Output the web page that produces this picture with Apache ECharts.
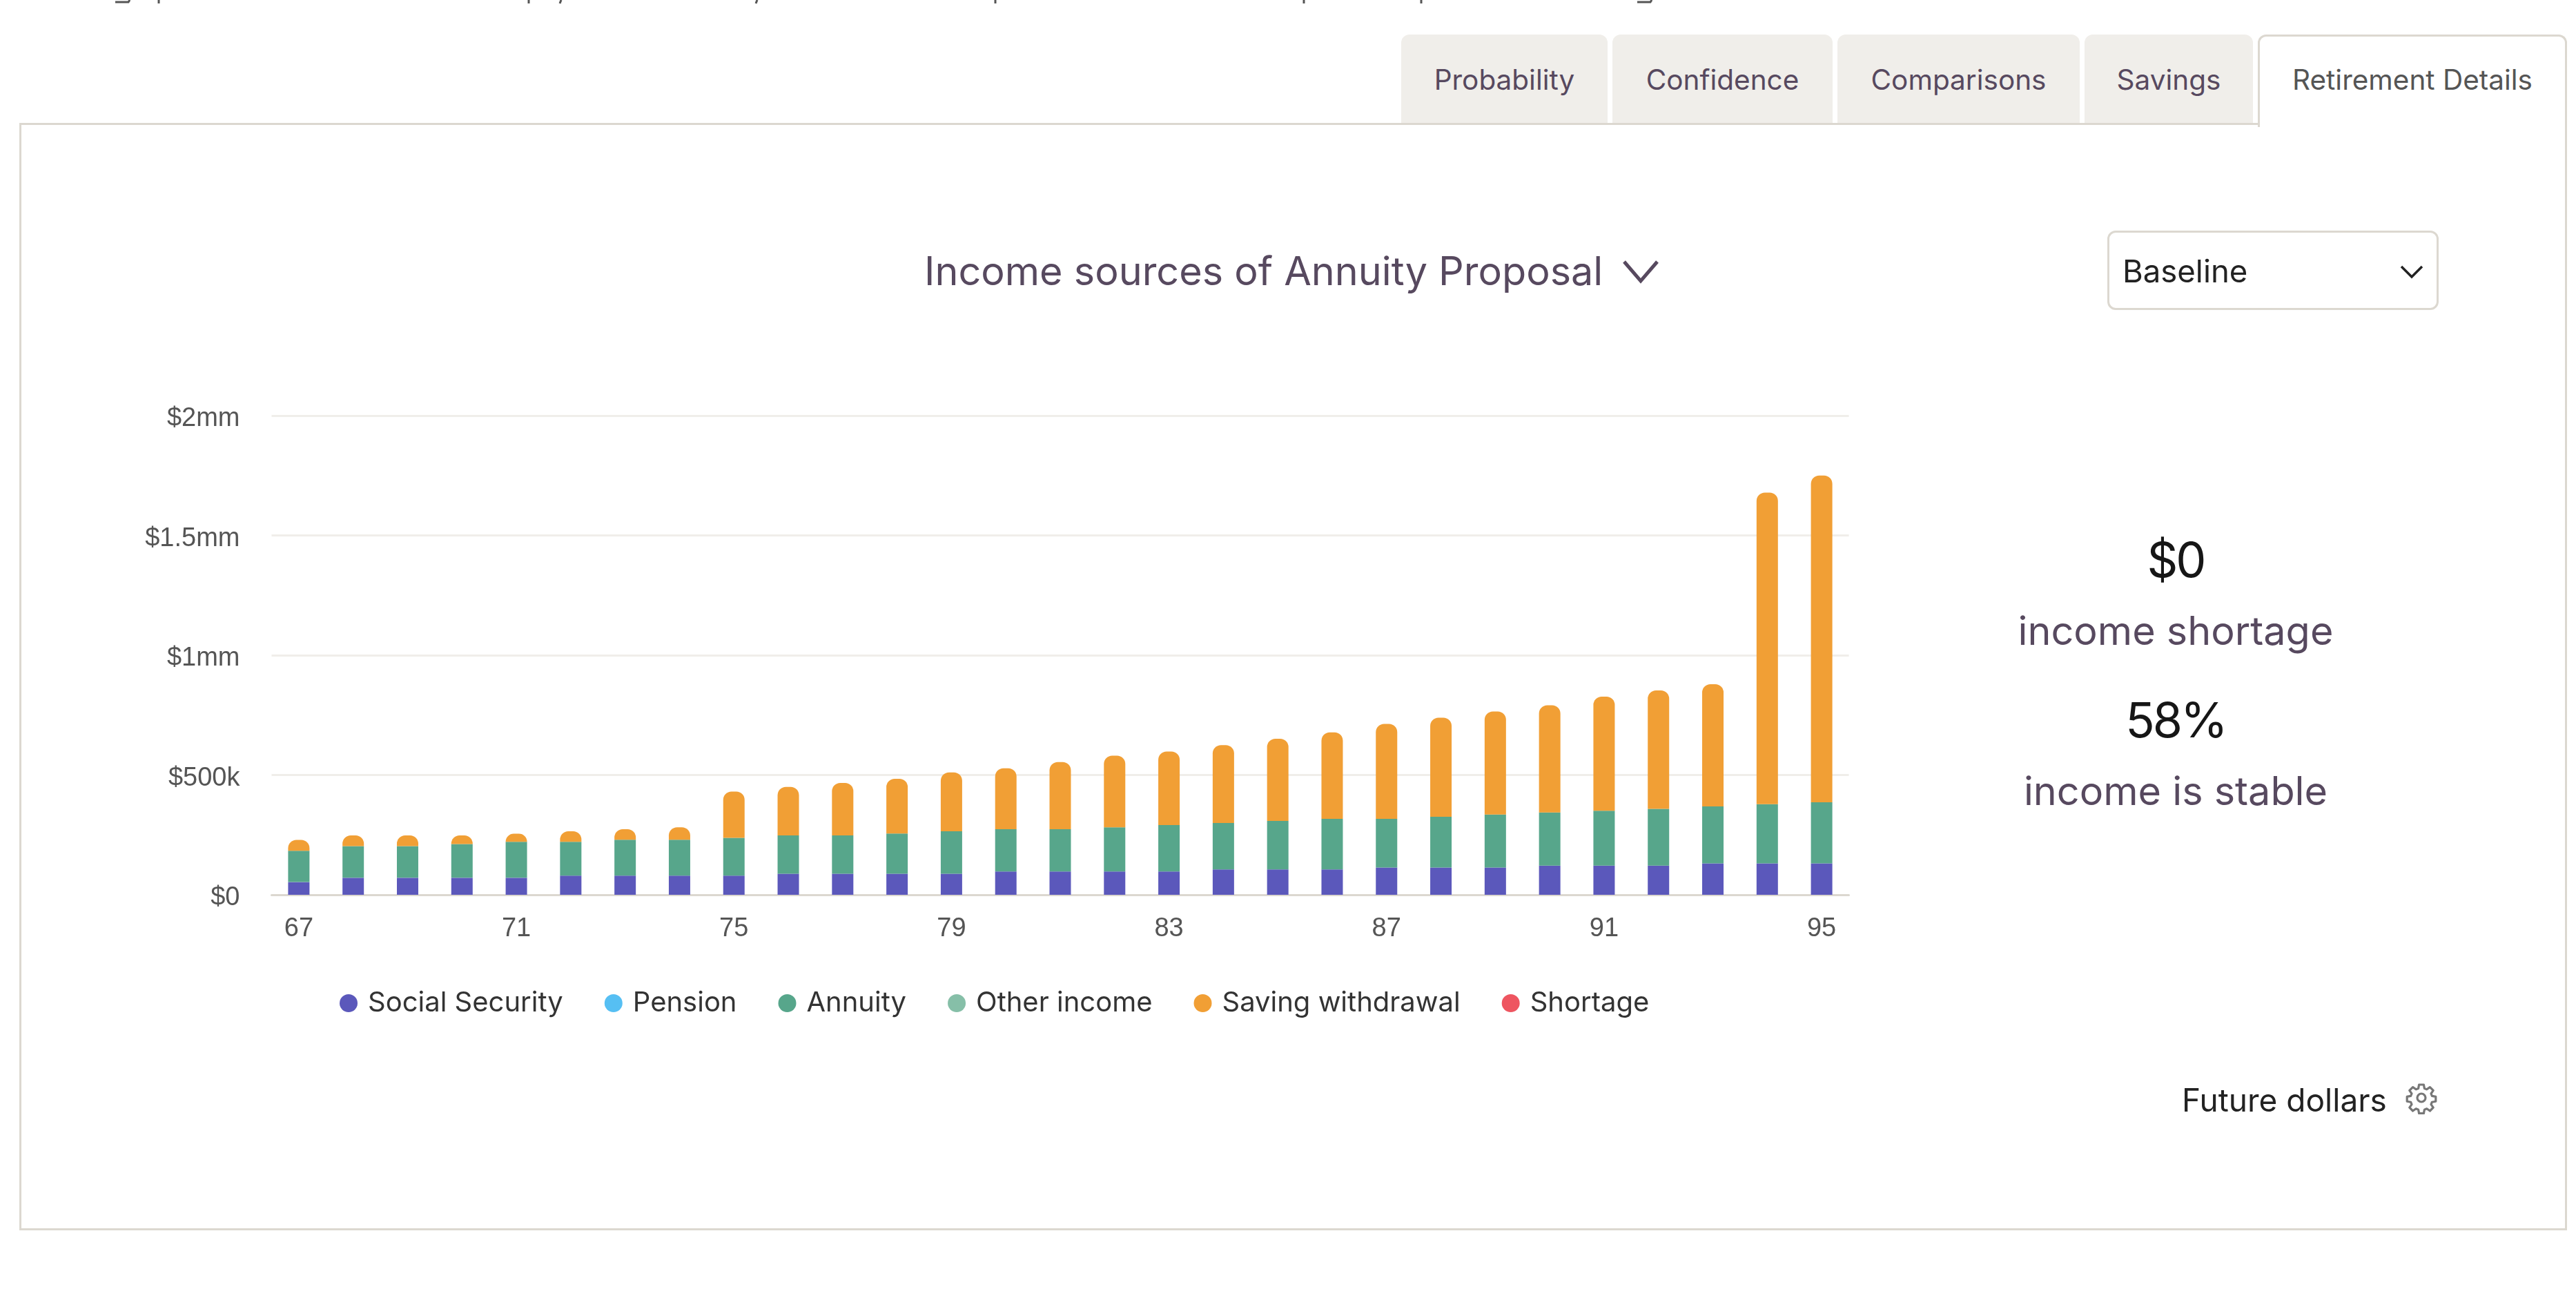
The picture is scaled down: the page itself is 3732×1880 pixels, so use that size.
<!DOCTYPE html>
<html>
<head>
<meta charset="utf-8">
<title>Income sources</title>
<script src="https://cdn.jsdelivr.net/npm/echarts@6/dist/echarts.min.js"></script>
<style>
  html, body { margin: 0; padding: 0; background: #fff; overflow: hidden; }
  body { width: 3732px; height: 1880px; position: relative; font-family: Inter, "Noto Sans", sans-serif; }
  .abs { position: absolute; box-sizing: border-box; }
  #panel { left: 28px; top: 178px; width: 3691px; height: 1604px; border: 3px solid #dcd8d0; background: #fff; }
  .tab { top: 50px; height: 128px; background: #f0eeea; border-radius: 12px 12px 0 0; color: #57495f;
         font-size: 40.5px; line-height: 132px; text-align: center; }
  .tab.active { background: #fff; color: #555; border: 3px solid #dcd8d0; border-bottom: none; height: 134px; line-height: 126px; z-index: 3; }
  #chart { left: 0; top: 0; width: 3732px; height: 1880px; z-index: 2; }
  .stat { left: 2752px; width: 800px; text-align: center; z-index: 2; }
  .num { color: #161616; font-size: 70px; line-height: 90px; letter-spacing: -3px; }
  .cap { color: #57495f; font-size: 57.5px; line-height: 70px; }
  #select { left: 3053px; top: 334px; width: 480px; height: 115px; border: 3px solid #dcd8d0; border-radius: 12px;
            font-size: 45.5px; line-height: 112px; padding-left: 19px; color: #222; z-index: 2; }
  #units { left: 3161px; top: 1565px; font-size: 46px; line-height: 56px; color: #222; z-index: 2; }
  svg.abs { z-index: 2; }
</style>
</head>
<body>
<!-- Tail ends of the line of copy that scrolls off above the tabs -->
<svg class="abs" style="left:0;top:0" width="2500" height="8" viewBox="0 0 2500 8">
  <g fill="none" stroke="#555" stroke-width="3">
    <path d="M167 3 H186 L188 0"/>
    <path d="M230 0 V5"/><path d="M766 0 V5"/><path d="M813 0 L811 5"/><path d="M1097 0 L1095 5"/>
    <path d="M1442 0 V5"/><path d="M1889 0 V5"/><path d="M2059 0 V5"/>
    <path d="M2372 3 H2391 L2393 0"/>
  </g>
</svg>

<div class="abs tab" style="left:2030px;width:299px">Probability</div>
<div class="abs tab" style="left:2336px;width:319px">Confidence</div>
<div class="abs tab" style="left:2662px;width:351px">Comparisons</div>
<div class="abs tab" style="left:3020px;width:244px">Savings</div>
<div class="abs tab active" style="left:3271px;width:448px">Retirement Details</div>
<div class="abs" id="panel"></div>
<div class="abs" id="chart"></div>

<svg class="abs" style="left:2350px;top:374px" width="54" height="40" viewBox="0 0 54 40">
  <path d="M3 5 L27 33 L51 5" fill="none" stroke="#57495f" stroke-width="5"/>
</svg>
<div class="abs" id="select">Baseline</div>
<svg class="abs" style="left:3476px;top:382px" width="36" height="24" viewBox="0 0 36 24">
  <path d="M3 4 L18 19 L33 4" fill="none" stroke="#222" stroke-width="3.5"/>
</svg>

<div class="abs stat num" style="top:766px">$0</div>
<div class="abs stat cap" style="top:878px">income shortage</div>
<div class="abs stat num" style="top:998px">58%</div>
<div class="abs stat cap" style="top:1110px">income is stable</div>
<div class="abs" id="units">Future dollars</div>
<svg class="abs" style="left:3484px;top:1566px" width="48" height="48" viewBox="0 0 24 24">
  <circle cx="12" cy="12" r="3" fill="none" stroke="#777" stroke-width="1.6"/>
  <path d="M10.3 2.5h3.4l.5 2.7 1.7.7 2.3-1.6 2.4 2.4-1.6 2.3.7 1.7 2.7.5v3.4l-2.7.5-.7 1.7 1.6 2.3-2.4 2.4-2.3-1.6-1.7.7-.5 2.7h-3.4l-.5-2.7-1.7-.7-2.3 1.6-2.4-2.4 1.6-2.3-.7-1.7-2.7-.5v-3.4l2.7-.5.7-1.7-1.6-2.3 2.4-2.4 2.3 1.6 1.7-.7z" fill="none" stroke="#777" stroke-width="1.6" stroke-linejoin="round"/>
</svg>

<script>
// Ages along the horizontal axis
const ages = [67,68,69,70,71,72,73,74,75,76,77,78,79,80,81,82,83,84,85,86,87,88,89,90,91,92,93,94,95];

// Yearly income by source, in dollars
const socialSecurity = [53000,71000,71000,71000,71000,80000,80000,80000,80000,88000,88000,88000,88000,97000,97000,97000,97000,106000,106000,106000,114000,114000,114000,122000,122000,122000,131000,131000,131000];
const pension = [0,0,0,0,0,0,0,0,0,0,0,0,0,0,0,0,0,0,0,0,0,0,0,0,0,0,0,0,0];
const annuity = [131000,132000,132000,141000,150000,141000,150000,150000,158000,160000,160000,168000,177000,177000,177000,185000,194000,194000,202000,211000,203000,212000,221000,222000,229000,237000,238000,247000,255000];
const otherIncome = [0,0,0,0,0,0,0,0,0,0,0,0,0,0,0,0,0,0,0,0,0,0,0,0,0,0,0,0,0];
const savingWithdrawal = [45000,45000,45000,36000,34000,44000,44000,52000,193000,202000,219000,228000,246000,254000,280000,299000,307000,325000,343000,361000,396000,413000,430000,447000,476000,494000,510000,1301000,1364000];
const shortage = [0,0,0,0,0,0,0,0,0,0,0,0,0,0,0,0,0,0,0,0,0,0,0,0,0,0,0,0,0];

// Value-axis tick labels
const yTicks = { 0: '$0', 500000: '$500k', 1000000: '$1mm', 1500000: '$1.5mm', 2000000: '$2mm' };

const axisFont = '"Liberation Sans", Arial, sans-serif';
const uiFont = 'Inter, "Noto Sans", sans-serif';

function stacked(name, data, color, extra) {
  return Object.assign({
    name, type: 'bar', stack: 'income', data, barWidth: 31,
    itemStyle: { color }, emphasis: { disabled: true }
  }, extra || {});
}

const chart = echarts.init(document.getElementById('chart'), null, { renderer: 'canvas' });
chart.setOption({
  animation: false,
  title: {
    text: 'Income sources of Annuity Proposal',
    left: 1334, top: 362,
    textStyle: { fontFamily: uiFont, fontWeight: 400, fontSize: 57.5, color: '#57495f' }
  },
  legend: {
    left: 487, top: 1428,
    itemWidth: 26, itemHeight: 26, itemGap: 60, icon: 'circle',
    textStyle: { fontFamily: uiFont, fontSize: 40, color: '#333', padding: [0, 0, 0, 10] },
    selectedMode: false,
    data: ['Social Security','Pension','Annuity','Other income','Saving withdrawal','Shortage']
  },
  grid: { left: 393.5, right: 3732 - 2678.5, top: 602, height: 694, containLabel: false },
  xAxis: {
    type: 'category', data: ages,
    axisTick: { show: false },
    axisLine: { lineStyle: { color: '#dcd8d0', width: 3 } },
    axisLabel: { interval: 3, margin: 31, fontFamily: axisFont, fontSize: 38, color: '#555' }
  },
  yAxis: {
    type: 'value', min: 0, max: 2000000, interval: 500000,
    axisLine: { show: false }, axisTick: { show: false },
    splitLine: { lineStyle: { color: '#f0eeea', width: 3 } },
    axisLabel: { margin: 46, fontFamily: axisFont, fontSize: 38, color: '#555',
                 verticalAlign: 'top', lineHeight: 10,
                 formatter: v => yTicks[v] }
  },
  series: [
    stacked('Social Security', socialSecurity, '#5b58bb'),
    stacked('Pension', pension, '#56bff3'),
    stacked('Annuity', annuity, '#57a68b'),
    stacked('Other income', otherIncome, '#86bfa8'),
    stacked('Saving withdrawal', savingWithdrawal, '#f19f35', { itemStyle: { color: '#f19f35', borderRadius: [12, 12, 0, 0] } }),
    stacked('Shortage', shortage, '#ee5560')
  ]
});
</script>
</body>
</html>
